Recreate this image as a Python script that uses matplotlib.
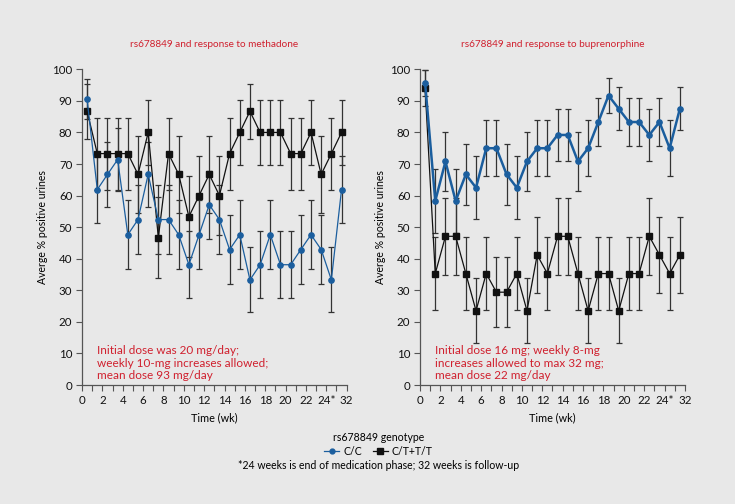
import matplotlib.pyplot as plt
from matplotlib.lines import Line2D

plt.rcParams['font.family'] = ['Lato', 'DejaVu Sans']

# tick labels on the time axis (one tick per week slot, labels on even slots)
tick_labels = ['0', '2', '4', '6', '8', '10', '12', '14', '16', '18', '20', '22', '24*', '32']

# week slots for the 26 measurements
weeks = [i + 0.5 for i in range(26)]

# methadone panel
meth_cc = [90.5, 61.9, 66.7, 71.4, 47.6, 52.4, 66.7, 52.4, 52.4, 47.6, 38.1, 47.6, 57.1,
           52.4, 42.9, 47.6, 33.3, 38.1, 47.6, 38.1, 38.1, 42.9, 47.6, 42.9, 33.3, 61.9]
meth_cc_err = [6.4, 10.6, 10.3, 9.9, 10.9, 10.9, 10.3, 10.9, 10.9, 10.9, 10.6, 10.9, 10.8,
               10.9, 10.8, 10.9, 10.3, 10.6, 10.9, 10.6, 10.6, 10.8, 10.9, 10.8, 10.3, 10.6]
meth_ct = [86.7, 73.3, 73.3, 73.3, 73.3, 66.7, 80.0, 46.7, 73.3, 66.7, 53.3, 60.0, 66.7,
           60.0, 73.3, 80.0, 86.7, 80.0, 80.0, 80.0, 73.3, 73.3, 80.0, 66.7, 73.3, 80.0]
meth_ct_err = [8.8, 11.4, 11.4, 11.4, 11.4, 12.2, 10.3, 12.9, 11.4, 12.2, 12.9, 12.6, 12.2,
               12.6, 11.4, 10.3, 8.8, 10.3, 10.3, 10.3, 11.4, 11.4, 10.3, 12.2, 11.4, 10.3]

# buprenorphine panel
bup_cc = [95.8, 58.3, 70.8, 58.3, 66.7, 62.5, 75.0, 75.0, 66.7, 62.5, 70.8, 75.0, 75.0,
          79.2, 79.2, 70.8, 75.0, 83.3, 91.7, 87.5, 83.3, 83.3, 79.2, 83.3, 75.0, 87.5]
bup_cc_err = [4.1, 10.1, 9.3, 10.1, 9.6, 9.9, 8.8, 8.8, 9.6, 9.9, 9.3, 8.8, 8.8,
              8.3, 8.3, 9.3, 8.8, 7.6, 5.6, 6.8, 7.6, 7.6, 8.3, 7.6, 8.8, 6.8]
bup_ct = [94.1, 35.3, 47.1, 47.1, 35.3, 23.5, 35.3, 29.4, 29.4, 35.3, 23.5, 41.2, 35.3,
          47.1, 47.1, 35.3, 23.5, 35.3, 35.3, 23.5, 35.3, 35.3, 47.1, 41.2, 35.3, 41.2]
bup_ct_err = [5.7, 11.6, 12.1, 12.1, 11.6, 10.3, 11.6, 11.0, 11.0, 11.6, 10.3, 11.9, 11.6,
              12.1, 12.1, 11.6, 10.3, 11.6, 11.6, 10.3, 11.6, 11.6, 12.1, 11.9, 11.6, 11.9]

bg = '#e8e8e8'
blue = '#1b5e9e'
red = '#d0202e'
errc = '#333333'

fig = plt.figure(figsize=(7.35, 5.04), dpi=100, facecolor=bg)
ax1 = fig.add_axes([0.1116, 0.2361, 0.360, 0.6264])
ax2 = fig.add_axes([0.5714, 0.2361, 0.3605, 0.6264])


def panel(ax, cc, cc_err, ct, ct_err, title, note, blue_lw):
    ax.set_facecolor(bg)
    ax.errorbar(weeks, ct, yerr=ct_err, fmt='none', ecolor=errc, elinewidth=0.9,
                capsize=2.3, capthick=0.9, zorder=2)
    ax.errorbar(weeks, cc, yerr=cc_err, fmt='none', ecolor=errc, elinewidth=0.9,
                capsize=2.3, capthick=0.9, zorder=2)
    ax.plot(weeks, ct, color='#111111', lw=0.9, marker='s', ms=4.0, zorder=3)
    ax.plot(weeks, cc, color=blue, lw=blue_lw, marker='o', ms=3.8, zorder=4)
    ax.set_xlim(0, 26)
    ax.set_ylim(0, 100)
    ax.set_xticks(range(27))
    ax.set_xticklabels([tick_labels[i // 2] if i % 2 == 0 else '' for i in range(27)])
    ax.set_yticks(range(0, 101, 10))
    ax.tick_params(direction='out', length=4, width=0.8, labelsize=8.3,
                   colors='#555555', labelcolor='#111111', pad=3)
    for s in ['top', 'right']:
        ax.spines[s].set_visible(False)
    for s in ['left', 'bottom']:
        ax.spines[s].set_color('#555555')
        ax.spines[s].set_linewidth(0.9)
    ax.set_xlabel('Time (wk)', fontsize=7.8, labelpad=5)
    ax.set_ylabel('Averge % positive urines', fontsize=7.6, labelpad=3)
    ax.set_title(title, color=red, fontsize=7.2, pad=16)
    ax.text(1.45, 12.6, note, color=red, fontsize=8.5, va='top', ha='left',
            linespacing=1.15)


panel(ax1, meth_cc, meth_cc_err, meth_ct, meth_ct_err,
      'rs678849 and response to methadone',
      'Initial dose was 20 mg/day;\nweekly 10-mg increases allowed;\nmean dose 93 mg/day', 0.9)
panel(ax2, bup_cc, bup_cc_err, bup_ct, bup_ct_err,
      'rs678849 and response to buprenorphine',
      'Initial dose 16 mg; weekly 8-mg\nincreases allowed to max 32 mg;\nmean dose 22 mg/day', 1.8)

handles = [Line2D([], [], color=blue, lw=0.9, marker='o', ms=3.5),
           Line2D([], [], color='#111111', lw=0.9, marker='s', ms=3.8)]
leg = fig.legend(handles, ['C/C', 'C/T+T/T'], loc='center', bbox_to_anchor=(0.515, 0.118),
                 ncol=2, frameon=False, fontsize=7.6, title='rs678849 genotype',
                 title_fontsize=7.6, handlelength=1.4, handletextpad=0.4,
                 columnspacing=1.0, borderpad=0, labelspacing=0.2)
fig.text(0.515, 0.077, '*24 weeks is end of medication phase; 32 weeks is follow-up',
         ha='center', va='center', fontsize=7.6)

fig.savefig('out.png', dpi=100, facecolor=bg)
